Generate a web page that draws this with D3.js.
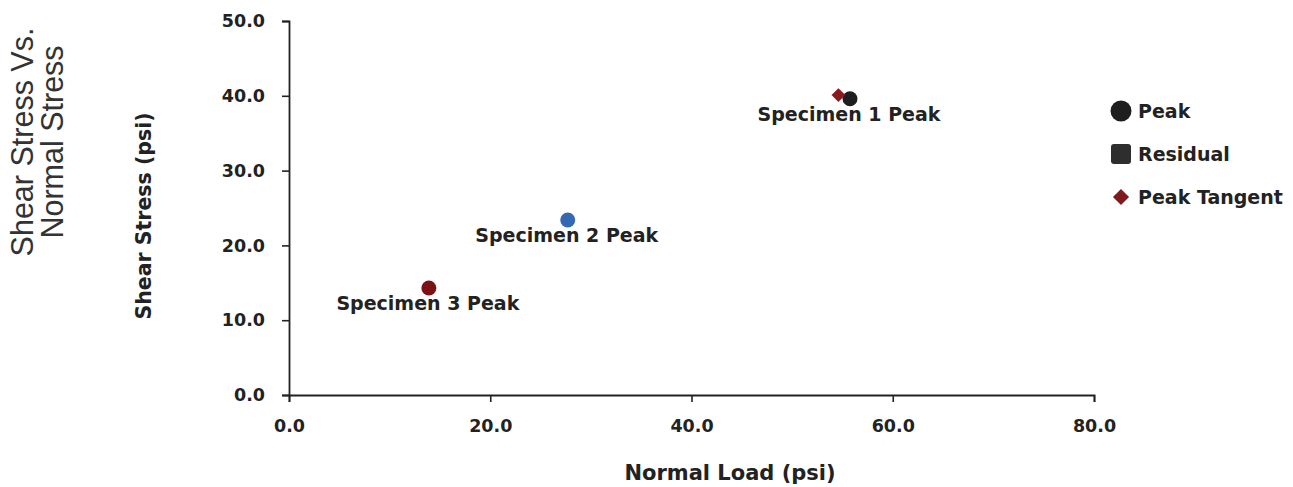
<!DOCTYPE html>
<html>
<head>
<meta charset="utf-8">
<script src="https://cdn.jsdelivr.net/npm/d3@7"></script>
<style>
  html, body { margin: 0; padding: 0; background: #fff; }
  svg text { font-family: "DejaVu Sans", Verdana, sans-serif; }
</style>
</head>
<body>
<svg id="chart" width="1293" height="487"></svg>
<script>
// Shear test results: peak points per specimen and the peak tangent point
const specimens = ["Specimen 1 Peak", "Specimen 2 Peak", "Specimen 3 Peak"];
const peakNormal = [55.75, 27.7, 13.9];
const peakShear = [39.6, 23.4, 14.3];
const peakColors = ["#1e1e1e", "#3568b3", "#7a1216"];
const tangentNormal = [54.6];
const tangentShear = [40.1];
const xTicks = [0, 20, 40, 60, 80];
const yTicks = [0, 10, 20, 30, 40, 50];
const legendItems = ["Peak", "Residual", "Peak Tangent"];

const svg = d3.select("#chart");
const x = d3.scaleLinear().domain([0, 80]).range([289, 1094]);
const y = d3.scaleLinear().domain([0, 50]).range([395, 21]);

// axes
const xAxis = d3.axisBottom(x).tickValues(xTicks).tickFormat(d3.format(".1f")).tickSize(7).tickPadding(18);
const yAxis = d3.axisLeft(y).tickValues(yTicks).tickFormat(d3.format(".1f")).tickSize(7).tickPadding(17);

const gx = svg.append("g").attr("transform", "translate(0,395)").call(xAxis);
const gy = svg.append("g").attr("transform", "translate(289,0)").call(yAxis);
[gx, gy].forEach(g => {
  g.select(".domain").attr("stroke", "#222").attr("stroke-width", 1.8);
  g.selectAll(".tick line").attr("stroke", "#222").attr("stroke-width", 1.6);
  g.selectAll(".tick text")
    .attr("fill", "#222")
    .style("font-family", "'DejaVu Sans', Verdana, sans-serif")
    .style("font-size", "17.5px")
    .style("font-weight", "bold");
});

// axis titles
svg.append("text")
  .attr("x", 730).attr("y", 480)
  .attr("text-anchor", "middle")
  .style("font-size", "21px").style("font-weight", "bold").attr("fill", "#222")
  .text("Normal Load (psi)");

svg.append("text")
  .attr("transform", "translate(151,216) rotate(-90)")
  .attr("text-anchor", "middle")
  .style("font-size", "20.5px").style("font-weight", "bold").attr("fill", "#222")
  .text("Shear Stress (psi)");

// chart title, rotated, two lines
const title = svg.append("text")
  .attr("transform", "translate(0,142) rotate(-90)")
  .attr("text-anchor", "middle")
  .style("font-family", "'Liberation Sans', Arial, sans-serif")
  .style("font-size", "30.5px").attr("fill", "#333");
title.append("tspan").attr("x", 0).attr("y", 33).text("Shear Stress Vs.");
title.append("tspan").attr("x", 0).attr("y", 63).text("Normal Stress");

// peak points
svg.append("g").selectAll("circle")
  .data(specimens)
  .join("circle")
  .attr("cx", (d, i) => x(peakNormal[i]))
  .attr("cy", (d, i) => y(peakShear[i]))
  .attr("r", 7.5)
  .attr("fill", (d, i) => peakColors[i]);

// peak tangent point (square turned 45 degrees)
const diamond = d3.symbol().type(d3.symbolSquare).size(95);
svg.append("g").selectAll("path")
  .data(tangentNormal)
  .join("path")
  .attr("d", diamond)
  .attr("transform", (d, i) => `translate(${x(d)},${y(tangentShear[i])}) rotate(45)`)
  .attr("fill", "#8b1a1e");

// point labels
svg.append("g").selectAll("text")
  .data(specimens)
  .join("text")
  .attr("x", (d, i) => x(peakNormal[i]) - 1)
  .attr("y", (d, i) => y(peakShear[i]) + 22)
  .attr("text-anchor", "middle")
  .style("font-size", "19px").style("font-weight", "bold").attr("fill", "#222")
  .text(d => d);

// legend
const lg = svg.append("g").attr("transform", "translate(1121,111)");
const rows = lg.selectAll("g").data(legendItems).join("g")
  .attr("transform", (d, i) => `translate(0,${i * 43})`);
rows.filter((d, i) => i === 0).append("circle").attr("r", 10.5).attr("fill", "#1e1e1e");
rows.filter((d, i) => i === 1).append("rect")
  .attr("x", -10).attr("y", -10).attr("width", 20).attr("height", 20).attr("rx", 3)
  .attr("fill", "#2e2e2e");
rows.filter((d, i) => i === 2).append("path")
  .attr("d", d3.symbol().type(d3.symbolSquare).size(130))
  .attr("transform", "rotate(45)")
  .attr("fill", "#7e1a1e");
rows.append("text")
  .attr("x", 17).attr("y", 7)
  .style("font-size", "19px").style("font-weight", "bold").attr("fill", "#222")
  .text(d => d);
</script>
</body>
</html>
